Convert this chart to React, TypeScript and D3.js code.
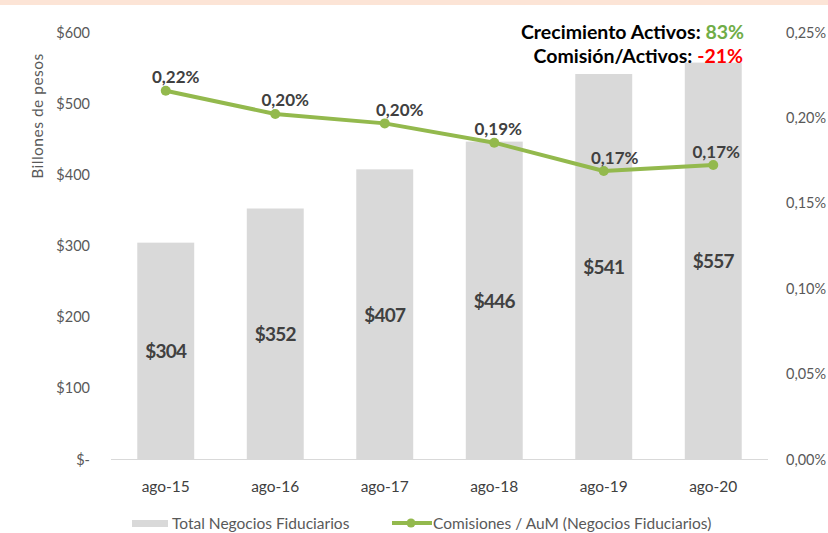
import React from "react";
import * as d3 from "d3";

const categories = ["ago-15", "ago-16", "ago-17", "ago-18", "ago-19", "ago-20"];
const totals = [304, 352, 407, 446, 541, 557];
const ratios = [0.2156, 0.202, 0.1965, 0.1852, 0.1686, 0.1721];
const ratioLabels = ["0,22%", "0,20%", "0,20%", "0,19%", "0,17%", "0,17%"];
const ratioLabelDx = [10, 10, 15, 4, 11, 3];
const leftTicks = [0, 100, 200, 300, 400, 500, 600];
const rightTicks = [0, 0.05, 0.1, 0.15, 0.2, 0.25];

const W = 828;
const H = 533;
const FONT = "Lato, 'Open Sans', sans-serif";
const GREEN = "#93B94D";
const BAR = "#D9D9D9";
const TEXT = "#595959";
const DARK = "#404040";

export default function App() {
  const x = d3.scaleBand<string>().domain(categories).range([111, 768]).paddingInner(0.48).paddingOuter(0.24);
  const yL = d3.scaleLinear().domain([0, 600]).range([459, 32]);
  const yR = d3.scaleLinear().domain([0, 0.25]).range([459, 32]);
  const cx = (c: string) => (x(c) as number) + x.bandwidth() / 2;
  const line = d3
    .line<number>()
    .x((_, i) => cx(categories[i]))
    .y((d) => yR(d));

  const fmtL = (v: number) => (v === 0 ? "$-" : `$${v}`);
  const fmtR = (v: number) => `${v.toFixed(2).replace(".", ",")}%`;

  return (
    <svg width={W} height={H} style={{ position: "absolute", left: 0, top: 0, fontFamily: FONT }}>
      <rect x={0} y={0} width={W} height={H} fill="#fff" />
      <rect x={0} y={0} width={W} height={5} fill="#FCE4D6" />
      {/* bars */}
      {categories.map((c, i) => (
        <rect key={c} x={x(c)} y={yL(totals[i])} width={x.bandwidth()} height={yL(0) - yL(totals[i])} fill={BAR} />
      ))}
      {/* baseline */}
      <line x1={111} x2={768} y1={yL(0) + 0.5} y2={yL(0) + 0.5} stroke="#D9D9D9" strokeWidth={1} />
      {/* bar labels */}
      {categories.map((c, i) => (
        <text
          key={c}
          x={cx(c)}
          y={(yL(totals[i]) + yL(0)) / 2}
          textAnchor="middle"
          dominantBaseline="central"
          fontSize={19}
          fontWeight={700}
          fill={DARK}
          style={{ letterSpacing: "-0.8px" }}
        >
          {`$${totals[i]}`}
        </text>
      ))}
      {/* left axis ticks */}
      {leftTicks.map((t) => (
        <text key={t} x={90} y={yL(t)} textAnchor="end" dominantBaseline="central" fontSize={14.5} fill={TEXT}>
          {fmtL(t)}
        </text>
      ))}
      {/* right axis ticks */}
      {rightTicks.map((t) => (
        <text key={t} x={786} y={yR(t)} textAnchor="start" dominantBaseline="central" fontSize={14.5} fill={TEXT}>
          {fmtR(t)}
        </text>
      ))}
      {/* y title */}
      <text
        transform={`translate(37,116) rotate(-90)`}
        textAnchor="middle"
        dominantBaseline="central"
        fontSize={15.5}
        fill={TEXT}
        style={{ letterSpacing: "0.5px" }}
      >
        Billones de pesos
      </text>
      {/* x labels */}
      {categories.map((c) => (
        <text key={c} x={cx(c)} y={486} textAnchor="middle" dominantBaseline="central" fontSize={15.5} fill={DARK}>
          {c}
        </text>
      ))}
      {/* line */}
      <path d={line(ratios) || ""} fill="none" stroke={GREEN} strokeWidth={4} strokeLinejoin="round" />
      {ratios.map((r, i) => (
        <circle key={i} cx={cx(categories[i])} cy={yR(r)} r={5} fill={GREEN} />
      ))}
      {ratios.map((r, i) => (
        <text
          key={i}
          x={cx(categories[i]) + ratioLabelDx[i]}
          y={yR(r) - 14}
          textAnchor="middle"
          dominantBaseline="central"
          fontSize={17}
          fontWeight={700}
          fill={DARK}
        >
          {ratioLabels[i]}
        </text>
      ))}
      {/* annotation */}
      <text x={744} y={31} textAnchor="end" dominantBaseline="central" fontSize={19.5} fontWeight={700} fill="#000">
        Crecimiento Activos: <tspan fill="#70AD47">83%</tspan>
      </text>
      <text x={743} y={55} textAnchor="end" dominantBaseline="central" fontSize={19.5} fontWeight={700} fill="#000">
        Comisión/Activos: <tspan fill="#FF0000">-21%</tspan>
      </text>
      {/* legend */}
      <rect x={132} y={520} width={36} height={7} fill={BAR} />
      <text x={172} y={523} dominantBaseline="central" fontSize={15.5} fill={TEXT}>
        Total Negocios Fiduciarios
      </text>
      <line x1={392} x2={432} y1={523} y2={523} stroke={GREEN} strokeWidth={4} />
      <circle cx={411} cy={523} r={4.5} fill={GREEN} />
      <text x={433} y={523} dominantBaseline="central" fontSize={15.5} fill={TEXT}>
        Comisiones / AuM (Negocios Fiduciarios)
      </text>
    </svg>
  );
}
